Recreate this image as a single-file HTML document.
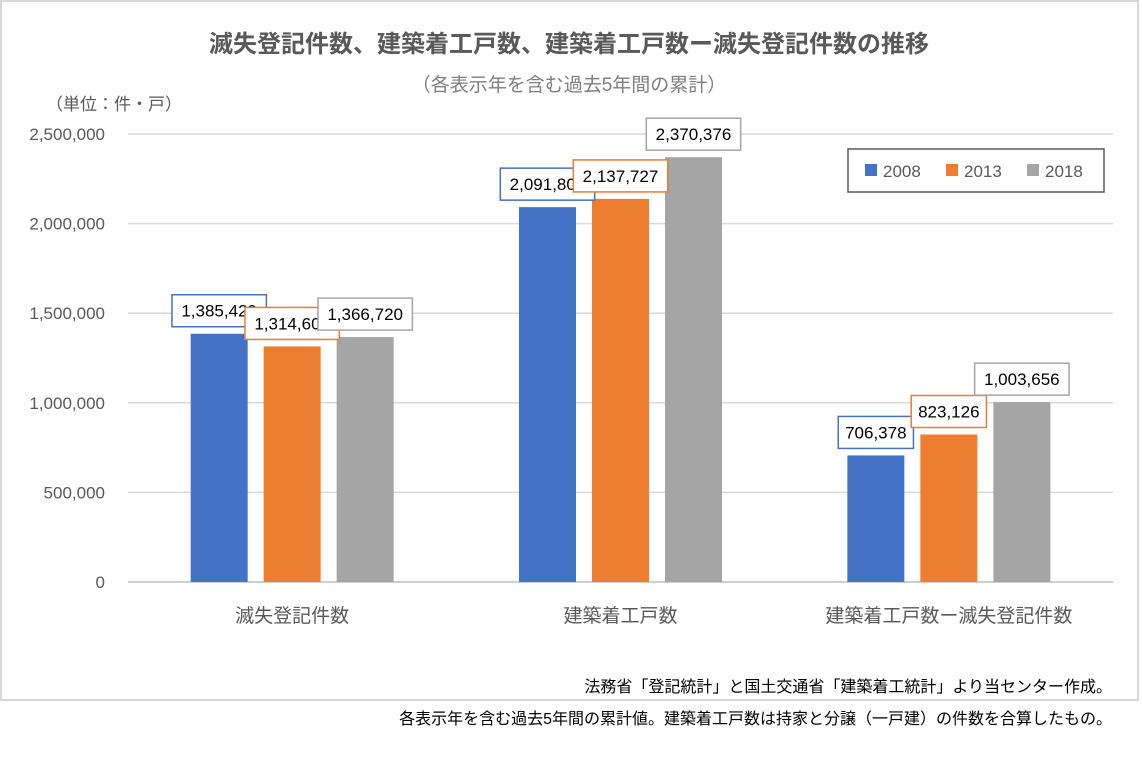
<!DOCTYPE html>
<html><head><meta charset="utf-8">
<style>
body{margin:0;background:#fff;font-family:"Liberation Sans","Noto Sans CJK JP",sans-serif;}
svg text{font-family:"Liberation Sans","Noto Sans CJK JP",sans-serif;}
</style></head>
<body>
<svg id="chart" width="1142" height="752" xmlns="http://www.w3.org/2000/svg">
<rect x="1" y="1" width="1137" height="699" fill="#fff" stroke="#d9d9d9" stroke-width="2"/>
<text x="569" y="52" text-anchor="middle" font-size="24" font-weight="bold" fill="#595959">滅失登記件数、建築着工戸数、建築着工戸数ー滅失登記件数の推移</text>
<text x="569" y="91" text-anchor="middle" font-size="19" fill="#7f7f7f">（各表示年を含む過去5年間の累計）</text>
<text x="46" y="110" font-size="17" fill="#595959">（単位：件・戸）</text>
<g id="grid"></g><g id="bars"></g><g id="labels"></g>
<g>
<rect x="848" y="149" width="256" height="43" fill="#fff" stroke="#595959" stroke-width="1.5"/>
<rect x="865" y="164" width="12" height="12" fill="#4472c4"/><text x="883" y="177" font-size="17" fill="#595959">2008</text>
<rect x="946" y="164" width="12" height="12" fill="#ed7d31"/><text x="964" y="177" font-size="17" fill="#595959">2013</text>
<rect x="1027" y="164" width="12" height="12" fill="#a5a5a5"/><text x="1045" y="177" font-size="17" fill="#595959">2018</text>
</g>
<text x="1112" y="692" text-anchor="end" font-size="16" fill="#000">法務省「登記統計」と国土交通省「建築着工統計」より当センター作成。</text>
<text x="1112" y="724" text-anchor="end" font-size="16" fill="#000">各表示年を含む過去5年間の累計値。建築着工戸数は持家と分譲（一戸建）の件数を合算したもの。</text>
</svg>
<script>
const categories=["滅失登記件数","建築着工戸数","建築着工戸数ー滅失登記件数"];
const s2008=[1385429,2091807,706378];
const s2013=[1314601,2137727,823126];
const s2018=[1366720,2370376,1003656];
const yTicks=[0,500000,1000000,1500000,2000000,2500000];
const NS="http://www.w3.org/2000/svg";
const X0=128,X1=1113,Y0=582,Y1=134,YMAX=2500000;
const y=v=>Y0-(v/YMAX)*(Y0-Y1);
const cw=(X1-X0)/categories.length;
const xc=i=>X0+cw*(i+0.5);
function mk(t,a,p){const e=document.createElementNS(NS,t);for(const k in a)e.setAttribute(k,a[k]);p.appendChild(e);return e;}
const grid=document.getElementById('grid'),bars=document.getElementById('bars'),labels=document.getElementById('labels');
yTicks.forEach(v=>{
 const l=mk('line',{x1:X0,x2:X1,y1:y(v),y2:y(v),stroke:v===0?'#bfbfbf':'#d9d9d9','stroke-width':1.5},grid);
 
 
 const t=mk('text',{x:105,y:y(v)+6,'text-anchor':'end','font-size':17,fill:'#595959'},grid);
 t.textContent=v.toLocaleString('en-US');
 
 
});
categories.forEach((c,i)=>{
 const t=mk('text',{x:xc(i),y:622,'text-anchor':'middle','font-size':19,fill:'#595959'},grid);
 t.textContent=c;
 
 
});
const series=[[s2008,'#4472c4','2008'],[s2013,'#ed7d31','2013'],[s2018,'#a5a5a5','2018']];
const bw=57,step=73;
series.forEach(([vals,col,name],si)=>{
 vals.forEach((v,i)=>{
  const cx=xc(i)+(si-1)*step;
  const r=mk('rect',{x:cx-bw/2,y:y(v),width:bw,height:Y0-y(v),fill:col},bars);
  
  
  const txt=v.toLocaleString('en-US');
  const w=txt.length*9.6+8;
  const g=mk('g',{},labels);
  
  
  mk('rect',{x:cx-w/2,y:y(v)-39,width:w,height:32,fill:'#fff',stroke:col,'stroke-width':1.5},g);
  const t=mk('text',{x:cx,y:y(v)-17,'text-anchor':'middle','font-size':17,fill:'#000'},g);
  t.textContent=txt;
 });
});
</script>
</body></html>
